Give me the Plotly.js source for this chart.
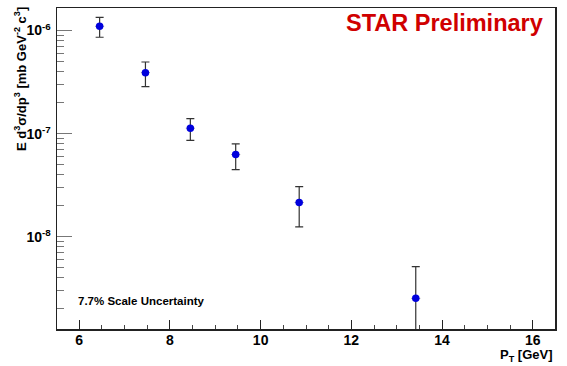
<!DOCTYPE html>
<html>
<head>
<meta charset="utf-8">
<script src="https://cdn.plot.ly/plotly-3.0.1.min.js"></script>
<style>html,body{margin:0;padding:0;background:#fff;}#chart{width:567px;height:366px;}</style>
</head>
<body>
<div id="chart"></div>
<script>
// Data
const pt = [6.45, 7.46, 8.45, 9.45, 10.85, 13.42];
const crossSection = [1.10e-6, 3.90e-7, 1.13e-7, 6.27e-8, 2.15e-8, 2.53e-9];
const errUp = [2.4e-7, 1.05e-7, 2.7e-8, 1.7e-8, 9.2e-9, 2.6e-9];
const errDown = [2.4e-7, 1.05e-7, 2.7e-8, 1.8e-8, 9.0e-9, 2.5e-9];
const ptErr = [0.1, 0.1, 0.1, 0.1, 0.1, 0.1];
const yTickVals = [1e-8, 1e-7, 1e-6];
const yTickText = ['10<sup>-8</sup>', '10<sup>-7</sup>', '10<sup>-6</sup>'];
const xTickVals = [6, 8, 10, 12, 14, 16];

// minor log ticks (2..9 times each decade)
const yMinor = [];
[1e-9, 1e-8, 1e-7, 1e-6].forEach(d => { for (let k = 2; k <= 9; k++) yMinor.push(k * d); });

const F = 'Liberation Sans, Arial, Helvetica, sans-serif';

const trace = {
  x: pt, y: crossSection, type: 'scatter', mode: 'markers',
  marker: {color: '#0000dd', size: 7.5, symbol: 'circle'},
  error_y: {type: 'data', symmetric: false, array: errUp, arrayminus: errDown,
            color: '#333', thickness: 1.2, width: 4},
  error_x: {type: 'data', array: ptErr, color: '#999', thickness: 1, width: 0},
  showlegend: false, hoverinfo: 'skip'
};

const layout = {
  width: 567, height: 366,
  margin: {l: 57, r: 12, t: 7.5, b: 37},
  paper_bgcolor: '#fff', plot_bgcolor: '#fff',
  showlegend: false,
  xaxis: {
    range: [5.51, 16.49], tickmode: 'array', tickvals: xTickVals,
    ticks: 'inside', ticklen: 9, tickwidth: 1, tickcolor: '#222',
    minor: {dtick: 0.5, ticks: 'inside', ticklen: 4.5, tickwidth: 1, tickcolor: '#444', showgrid: false},
    showgrid: false, zeroline: false,
    showline: true, mirror: true, linecolor: '#222', linewidth: 1.5,
    tickfont: {family: F, size: 14, color: '#000', weight: 'bold'},
    ticklabelstandoff: -2
  },
  yaxis: {
    type: 'log', range: [-8.894, -5.782],
    tickmode: 'array', tickvals: yTickVals, ticktext: yTickText,
    ticks: 'inside', ticklen: 15, tickwidth: 1, tickcolor: '#777',
    minor: {tickvals: yMinor, ticks: 'inside', ticklen: 7, tickwidth: 1, tickcolor: '#777', showgrid: false},
    showgrid: false, zeroline: false,
    showline: true, mirror: true, linecolor: '#222', linewidth: 1.5,
    tickfont: {family: F, size: 14, color: '#000', weight: 'bold'},
    ticklabelstandoff: 2
  },
  annotations: [
    {xref: 'paper', yref: 'paper', x: 0.98, y: 1.0, xanchor: 'right', yanchor: 'top',
     text: 'STAR Preliminary', showarrow: false,
     font: {family: F, size: 23.5, color: '#d00000', weight: 'bold'}},
    {xref: 'paper', yref: 'paper', x: 0.038, y: 0.087, xanchor: 'left', yanchor: 'middle',
     text: '7.7% Scale Uncertainty', showarrow: false,
     font: {family: F, size: 11.5, color: '#000', weight: 'bold'}},
    {xref: 'paper', yref: 'paper', x: 1.0, y: -0.114, xanchor: 'right', yanchor: 'bottom',
     text: 'P<sub>T</sub> [GeV]', showarrow: false,
     font: {family: F, size: 13, color: '#000', weight: 'bold'}},
    {xref: 'paper', yref: 'paper', x: -0.074, y: 1.01, xanchor: 'center', yanchor: 'top',
     textangle: -90,
     text: 'E d<sup>3</sup>σ/dp<sup>3</sup> [mb GeV<sup>-2</sup> c<sup>3</sup>]', showarrow: false,
     font: {family: F, size: 13, color: '#000', weight: 'bold'}}
  ]
};

Plotly.newPlot('chart', [trace], layout, {staticPlot: true, displayModeBar: false});
</script>
</body>
</html>
